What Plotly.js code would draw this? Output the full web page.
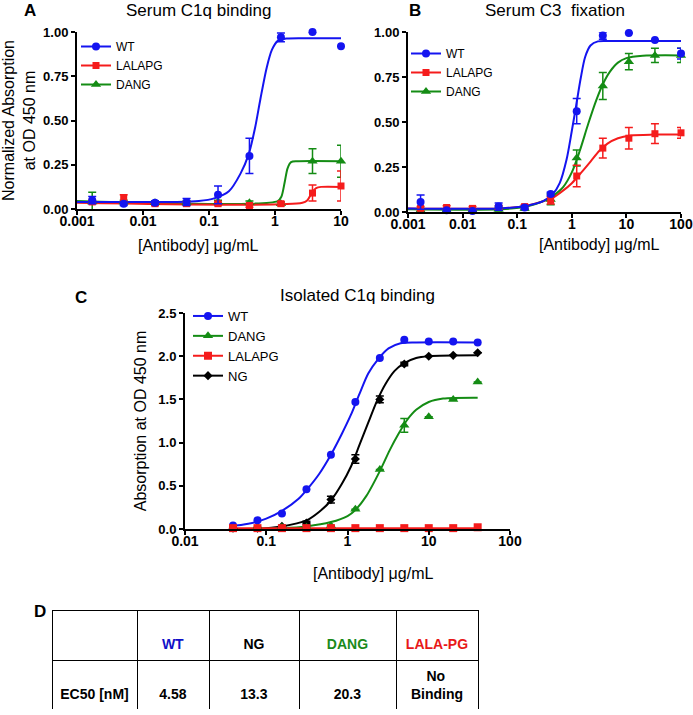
<!DOCTYPE html>
<html>
<head>
<meta charset="utf-8">
<script src="https://cdn.plot.ly/plotly-3.0.1.min.js"></script>
<style>
  body { margin: 0; background: #fff; }
  #plotArea { width: 693px; height: 715px; }
</style>
</head>
<body>
<div id="plotArea"></div>
<script>
// ---- data ----
// A: serum C1q binding
var doseA = [0.0017, 0.0051, 0.0152, 0.0457, 0.137, 0.41, 1.23, 3.7, 10];
var wtA = [0.05, 0.03, 0.035, 0.04, 0.08, 0.30, 0.97, 1.00, 0.92];
var wtAErr = [0.02, 0.01, 0.01, 0.02, 0.05, 0.10, 0.025, 0, 0];
var lalaA = [0.04, 0.06, 0.03, 0.03, 0.03, 0.02, 0.03, 0.09, 0.13];
var lalaAErr = [0.01, 0.02, 0.01, 0.01, 0.01, 0.01, 0.01, 0.045, 0.085];
var dangA = [0.04, 0.04, 0.035, 0.035, 0.04, 0.035, 0.03, 0.27, 0.27];
var dangAErr = [0.055, 0.01, 0.01, 0.01, 0.01, 0.01, 0.01, 0.07, 0.09];
// fitted curves
var wtAFitX = [0.001, 0.03, 0.07, 0.12, 0.2, 0.3, 0.4, 0.5, 0.6, 0.75, 0.9, 1.1, 1.5, 3, 10];
var wtAFitY = [0.04, 0.04, 0.045, 0.06, 0.1, 0.2, 0.31, 0.46, 0.62, 0.8, 0.9, 0.95, 0.963, 0.965, 0.965];
var dangAFitX = [0.001, 1.1, 1.25, 1.4, 1.55, 1.75, 2.2, 10];
var dangAFitY = [0.045, 0.045, 0.07, 0.15, 0.23, 0.265, 0.27, 0.27];
var lalaAFitX = [0.001, 2.6, 3.1, 3.6, 4.2, 5, 10];
var lalaAFitY = [0.035, 0.035, 0.05, 0.09, 0.118, 0.125, 0.125];

// B: serum C3 fixation
var doseB = [0.0017, 0.0051, 0.0152, 0.0457, 0.137, 0.41, 1.23, 3.7, 11.1, 33.3, 100];
var wtB = [0.055, 0.01, 0.005, 0.03, 0.025, 0.10, 0.56, 0.98, 0.995, 0.955, 0.88];
var wtBErr = [0.04, 0.005, 0.005, 0.02, 0.01, 0.01, 0.07, 0.02, 0, 0, 0.03];
var lalaB = [0.02, 0.025, 0.02, 0.025, 0.03, 0.065, 0.20, 0.355, 0.41, 0.435, 0.44];
var lalaBErr = [0.01, 0.01, 0.01, 0.01, 0.01, 0.02, 0.06, 0.055, 0.06, 0.055, 0.03];
var dangB = [0.01, 0.01, 0.01, 0.015, 0.02, 0.07, 0.30, 0.70, 0.835, 0.87, 0.87];
var dangBErr = [0.01, 0.005, 0.005, 0.01, 0.01, 0.03, 0.045, 0.075, 0.045, 0.04, 0.04];
var wtBFitX = [0.001, 0.05, 0.15, 0.3, 0.45, 0.6, 0.8, 1.0, 1.2, 1.45, 1.75, 2.2, 3, 5, 100];
var wtBFitY = [0.02, 0.02, 0.035, 0.06, 0.1, 0.16, 0.29, 0.45, 0.59, 0.74, 0.86, 0.925, 0.948, 0.95, 0.95];
var dangBFitX = [0.001, 0.05, 0.15, 0.3, 0.45, 0.7, 1.0, 1.4, 2.0, 2.8, 3.7, 5, 7, 10, 20, 100];
var dangBFitY = [0.015, 0.015, 0.03, 0.06, 0.09, 0.14, 0.22, 0.34, 0.49, 0.62, 0.71, 0.78, 0.83, 0.855, 0.868, 0.87];
var lalaBFitX = [0.001, 0.05, 0.15, 0.3, 0.45, 0.7, 1.0, 1.5, 2.2, 3.2, 4.5, 7, 12, 30, 100];
var lalaBFitY = [0.02, 0.02, 0.035, 0.06, 0.08, 0.12, 0.16, 0.22, 0.28, 0.34, 0.38, 0.41, 0.425, 0.43, 0.43];

// C: isolated C1q binding
var doseC = [0.039, 0.078, 0.156, 0.3125, 0.625, 1.25, 2.5, 5, 10, 20, 40];
var wtC = [0.04, 0.10, 0.18, 0.46, 0.86, 1.47, 1.98, 2.19, 2.17, 2.17, 2.16];
var ngC = [0.01, 0.01, 0.03, 0.07, 0.34, 0.81, 1.50, 1.91, 2.00, 2.01, 2.04];
var ngCErr = [0, 0, 0.01, 0.02, 0.04, 0.05, 0.04, 0.02, 0, 0, 0];
var dangC = [0.01, 0.02, 0.02, 0.02, 0.04, 0.23, 0.69, 1.20, 1.30, 1.50, 1.70];
var dangCErr = [0, 0, 0, 0, 0, 0, 0, 0.08, 0, 0, 0];
var lalaC = [0.01, 0.01, 0.01, 0.01, 0.01, 0.01, 0.01, 0.01, 0.01, 0.01, 0.02];
var wtCFitX = [0.035, 0.06, 0.1, 0.156, 0.25, 0.3125, 0.45, 0.625, 0.85, 1.1, 1.4, 1.8, 2.4, 3.2, 4.5, 7, 40];
var wtCFitY = [0.03, 0.06, 0.12, 0.21, 0.35, 0.45, 0.64, 0.86, 1.1, 1.32, 1.56, 1.8, 1.97, 2.09, 2.15, 2.16, 2.16];
var ngCFitX = [0.07, 0.156, 0.3125, 0.45, 0.625, 0.85, 1.1, 1.4, 1.8, 2.3, 2.9, 3.8, 5, 7, 10, 40];
var ngCFitY = [0.0, 0.03, 0.1, 0.2, 0.33, 0.52, 0.72, 0.97, 1.23, 1.48, 1.67, 1.83, 1.92, 1.98, 2.0, 2.01];
var dangCFitX = [0.035, 0.156, 0.3125, 0.625, 1.0, 1.25, 1.7, 2.5, 3.3, 4.3, 5.5, 7, 10, 15, 40];
var dangCFitY = [0.0, 0.01, 0.03, 0.08, 0.15, 0.22, 0.38, 0.67, 0.91, 1.11, 1.27, 1.38, 1.47, 1.51, 1.52];
var lalaCFitX = [0.035, 40];
var lalaCFitY = [0.01, 0.01];

// D: EC50 table
var tableHeader = ["", "WT", "NG", "DANG", "LALA-PG"];
var tableRowLabel = "EC50 [nM]";
var ec50Vals = ["4.58", "13.3", "20.3", "No<br>Binding"];

var FONT = 'Arial, "Liberation Sans", sans-serif';
var BLUE = '#1414f0', RED = '#f51c1c', GREEN = '#148c14', BLACK = '#000000';

function points(x, y, err, color, symbol, size, xa, ya) {
    var t = {
        x: x, y: y, type: 'scatter', mode: 'markers',
        marker: {color: color, symbol: symbol, size: size},
        xaxis: xa, yaxis: ya, showlegend: false, cliponaxis: false, hoverinfo: 'skip'
    };
    if (err) t.error_y = {type: 'data', array: err, visible: true, color: color, thickness: 1.5, width: 4};
    return t;
}

function curve(x, y, color, xa, ya) {
    return {
        x: x, y: y, type: 'scatter', mode: 'lines',
        line: {color: color, width: 2, shape: 'spline', smoothing: 0.8},
        xaxis: xa, yaxis: ya, showlegend: false, cliponaxis: false, hoverinfo: 'skip'
    };
}

// legend-only entries (line + marker like the Prism keys)
function key(name, color, symbol, size, legend, rank, xa, ya) {
    return {
        x: [null], y: [null], type: 'scatter', mode: 'lines+markers', name: name,
        marker: {color: color, symbol: symbol, size: size},
        line: {color: color, width: 2},
        xaxis: xa, yaxis: ya, legend: legend, legendrank: rank
    };
}

// text sits low in the cells, so pad with blank lines
function headText(h) {
    return '&nbsp;<br><b>' + (h || '&nbsp;') + '</b>';
}
// centre each line of a multi-line cell by padding the shorter line
function cellText(v) {
    var lines = v.split('<br>');
    if (lines.length === 1) return '&nbsp;<br><b>' + v + '</b>';
    return '<b>&nbsp;&nbsp;&nbsp;&nbsp;' + lines[0] + '</b><br><b>' + lines[1] + '</b>';
}

var data = [
    // A
    curve(dangAFitX, dangAFitY, GREEN, 'x', 'y'),
    curve(lalaAFitX, lalaAFitY, RED, 'x', 'y'),
    curve(wtAFitX, wtAFitY, BLUE, 'x', 'y'),
    points(doseA, dangA, dangAErr, GREEN, 'triangle-up', 9, 'x', 'y'),
    points(doseA, lalaA, lalaAErr, RED, 'square', 7, 'x', 'y'),
    points(doseA, wtA, wtAErr, BLUE, 'circle', 8, 'x', 'y'),
    key('WT', BLUE, 'circle', 8, 'legend', 1, 'x', 'y'),
    key('LALAPG', RED, 'square', 7, 'legend', 2, 'x', 'y'),
    key('DANG', GREEN, 'triangle-up', 9, 'legend', 3, 'x', 'y'),
    // B
    curve(lalaBFitX, lalaBFitY, RED, 'x2', 'y2'),
    curve(dangBFitX, dangBFitY, GREEN, 'x2', 'y2'),
    curve(wtBFitX, wtBFitY, BLUE, 'x2', 'y2'),
    points(doseB, dangB, dangBErr, GREEN, 'triangle-up', 9, 'x2', 'y2'),
    points(doseB, lalaB, lalaBErr, RED, 'square', 7, 'x2', 'y2'),
    points(doseB, wtB, wtBErr, BLUE, 'circle', 8, 'x2', 'y2'),
    key('WT', BLUE, 'circle', 8, 'legend2', 1, 'x2', 'y2'),
    key('LALAPG', RED, 'square', 7, 'legend2', 2, 'x2', 'y2'),
    key('DANG', GREEN, 'triangle-up', 9, 'legend2', 3, 'x2', 'y2'),
    // C
    curve(ngCFitX, ngCFitY, BLACK, 'x3', 'y3'),
    curve(dangCFitX, dangCFitY, GREEN, 'x3', 'y3'),
    curve(wtCFitX, wtCFitY, BLUE, 'x3', 'y3'),
    curve(lalaCFitX, lalaCFitY, RED, 'x3', 'y3'),
    points(doseC, ngC, ngCErr, BLACK, 'diamond', 7, 'x3', 'y3'),
    points(doseC, dangC, dangCErr, GREEN, 'triangle-up', 9, 'x3', 'y3'),
    points(doseC, wtC, null, BLUE, 'circle', 8, 'x3', 'y3'),
    points(doseC, lalaC, null, RED, 'square', 8, 'x3', 'y3'),
    key('WT', BLUE, 'circle', 8, 'legend3', 1, 'x3', 'y3'),
    key('DANG', GREEN, 'triangle-up', 9, 'legend3', 2, 'x3', 'y3'),
    key('LALAPG', RED, 'square', 8, 'legend3', 3, 'x3', 'y3'),
    key('NG', BLACK, 'diamond', 7, 'legend3', 4, 'x3', 'y3'),
    // D
    {
        type: 'table',
        domain: {x: [52 / 693, 478 / 693], y: [5 / 715, 105 / 715]},
        columnwidth: [85, 72, 90, 97, 82],
        header: {
            values: tableHeader.map(headText),
            height: 48, align: 'center',
            line: {color: 'black', width: 1}, fill: {color: 'white'},
            font: {family: FONT, size: 14, color: ['black', '#1010c8', 'black', '#1a8a1a', '#e81818']}
        },
        cells: {
            values: [[tableRowLabel]].concat(ec50Vals.map(function (v) { return [v]; }))
                .map(function (c) { return [cellText(c[0])]; }),
            height: 52, align: 'center',
            line: {color: 'black', width: 1}, fill: {color: 'white'},
            font: {family: FONT, size: 14, color: 'black'}
        }
    }
];

function axisBase() {
    return {
        showline: true, linewidth: 2, linecolor: 'black',
        ticks: 'outside', ticklen: 4, tickwidth: 2, tickcolor: 'black',
        showgrid: false, zeroline: false, fixedrange: true, automargin: false,
        tickfont: {family: FONT, size: 14, color: 'black', weight: 'bold'}
    };
}
function logAxis(domain, range, vals, anchor) {
    var a = axisBase();
    a.type = 'log'; a.domain = domain; a.range = range; a.anchor = anchor;
    a.tickvals = vals; a.ticktext = vals.map(String);
    a.ticklabelstandoff = -6;
    return a;
}
function linAxis(domain, range, dtick, fmt, anchor, title) {
    var a = axisBase();
    a.domain = domain; a.range = range; a.anchor = anchor;
    a.tick0 = 0; a.dtick = dtick; a.tickformat = fmt;
    a.tickfont.size = 13;
    if (title) a.title = {text: title, font: {family: FONT, size: 16, color: 'black'}, standoff: 8};
    return a;
}

function note(text, x, y, size, bold) {
    return {
        text: text, xref: 'paper', yref: 'paper', x: x / 693, y: 1 - y / 715,
        xanchor: 'center', yanchor: 'middle', showarrow: false,
        font: {family: FONT, size: size, color: 'black', weight: bold ? 'bold' : 'normal'}
    };
}

function legendAt(x, y, size) {
    return {
        x: x / 693, y: 1 - y / 715, xanchor: 'left', yanchor: 'top',
        bgcolor: 'rgba(0,0,0,0)', itemwidth: 30, tracegroupgap: 0,
        font: {family: FONT, size: size, color: 'black'}
    };
}

var layout = {
    width: 693, height: 715,
    margin: {l: 0, r: 0, t: 0, b: 0},
    paper_bgcolor: 'white', plot_bgcolor: 'white',
    xaxis: logAxis([77 / 693, 341 / 693], [-3, 1], [0.001, 0.01, 0.1, 1, 10], 'y'),
    yaxis: linAxis([506 / 715, 683 / 715], [0, 1], 0.25, '.2f', 'x', 'Normalized Absorption<br>at OD 450 nm'),
    xaxis2: logAxis([408 / 693, 681 / 693], [-3, 2], [0.001, 0.01, 0.1, 1, 10, 100], 'y2'),
    yaxis2: linAxis([503 / 715, 683 / 715], [0, 1], 0.25, '.2f', 'x2'),
    xaxis3: logAxis([185 / 693, 510 / 693], [-2, 2], [0.01, 0.1, 1, 10, 100], 'y3'),
    yaxis3: linAxis([186 / 715, 402 / 715], [0, 2.5], 0.5, '.1f', 'x3', 'Absorption at OD 450 nm'),
    legend: legendAt(76, 32, 12),
    legend2: legendAt(406, 39, 12),
    legend3: legendAt(188, 301, 13),
    annotations: [
        note('A', 30, 11, 17, true),
        note('Serum C1q binding', 199, 11, 17),
        note('B', 415, 11, 17, true),
        note('Serum C3  fixation', 555, 11, 17),
        note('C', 81, 297, 17, true),
        note('Isolated C1q binding', 357, 295, 17),
        note('D', 40, 611, 17, true),
        note('[Antibody] \u03bcg/mL', 198, 245, 16),
        note('[Antibody] \u03bcg/mL', 599, 244, 16),
        note('[Antibody] \u03bcg/mL', 373, 573, 16)
    ],
    showlegend: true
};

Plotly.newPlot('plotArea', data, layout, {displayModeBar: false, staticPlot: true});
</script>
</body>
</html>
